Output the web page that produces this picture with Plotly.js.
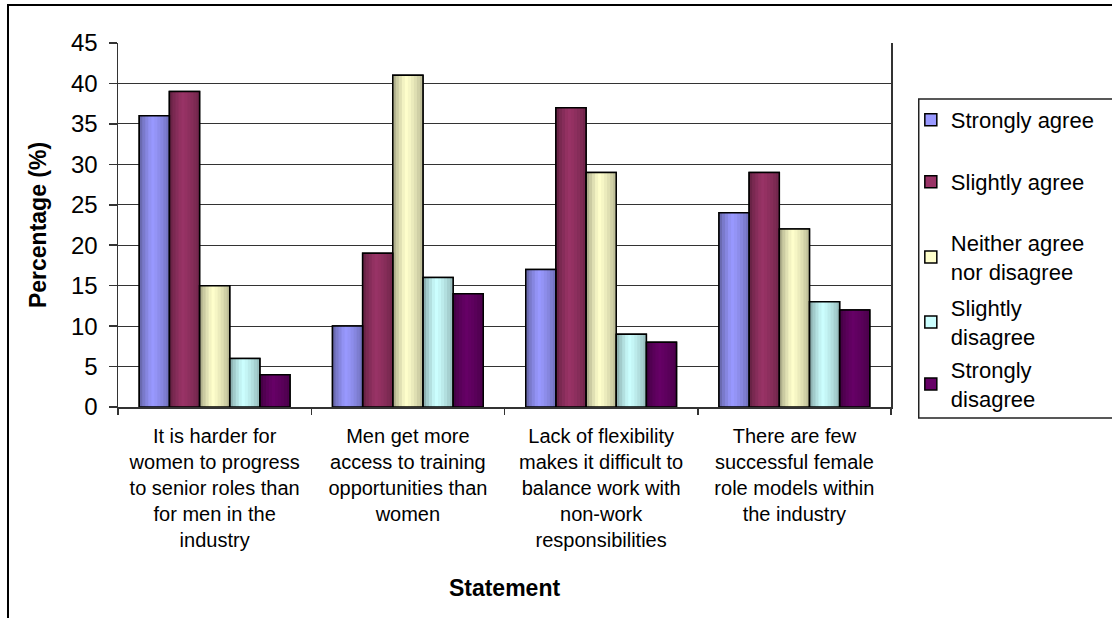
<!DOCTYPE html>
<html>
<head>
<meta charset="utf-8">
<script src="https://cdn.plot.ly/plotly-3.0.1.min.js"></script>
<style>
  html, body { margin: 0; padding: 0; background: #fff; }
  #chart { width: 1112px; height: 618px; }
</style>
</head>
<body>
<div id="chart"></div>
<script>
// Survey statements (x categories)
const statements = [
  'It is harder for<br>women to progress<br>to senior roles than<br>for men in the<br>industry',
  'Men get more<br>access to training<br>opportunities than<br>women',
  'Lack of flexibility<br>makes it difficult to<br>balance work with<br>non-work<br>responsibilities',
  'There are few<br>successful female<br>role models within<br>the industry'
];

// Response options (legend labels)
const responses = [
  'Strongly agree',
  'Slightly agree',
  'Neither agree<br>nor disagree',
  'Slightly<br>disagree',
  'Strongly<br>disagree'
];

// Percentage of respondents per statement
const stronglyAgree    = [36, 10, 17, 24];
const slightlyAgree    = [39, 19, 37, 29];
const neitherAgree     = [15, 41, 29, 22];
const slightlyDisagree = [6, 16, 9, 13];
const stronglyDisagree = [4, 14, 8, 12];

// Y axis ticks
const yTicks = [0, 5, 10, 15, 20, 25, 30, 35, 40, 45];

const seriesValues = [stronglyAgree, slightlyAgree, neitherAgree, slightlyDisagree, stronglyDisagree];
const seriesColors = ['#9999FF', '#993366', '#FFFFCC', '#CCFFFF', '#660066'];

const FONT = 'Liberation Sans, Arial, sans-serif';

// Horizontal shading across each bar: darker edges, bright band left of centre
function shadeFactor(t) {
  if (t < 0.42) return 0.6 + 0.4 * Math.pow(t / 0.42, 0.7);
  return 1 - 0.28 * Math.pow((t - 0.42) / 0.58, 1.4);
}
function shade(hex, f) {
  const n = parseInt(hex.slice(1), 16);
  const r = Math.round(((n >> 16) & 255) * f);
  const g = Math.round(((n >> 8) & 255) * f);
  const b = Math.round((n & 255) * f);
  return 'rgb(' + r + ',' + g + ',' + b + ')';
}

const barW = 0.156;
const groupW = barW * seriesValues.length;
const STRIPES = 10;

const baseTraces = [], stripeTraces = [], outlineTraces = [];
seriesValues.forEach((vals, i) => {
  const off0 = -groupW / 2 + i * barW;
  baseTraces.push({
    type: 'bar', x: statements, y: vals, name: responses[i],
    width: barW, offset: off0,
    marker: { color: seriesColors[i], line: { color: '#000', width: 1.5 } },
    legend: i === 0 ? 'legend' : 'legend' + (i + 1),
    hoverinfo: 'skip'
  });
  const sw = barW / STRIPES;
  for (let k = 0; k < STRIPES; k++) {
    const t = (k + 0.5) / STRIPES;
    stripeTraces.push({
      type: 'bar', x: statements, y: vals,
      width: Math.min(sw * 1.6, barW - k * sw), offset: off0 + k * sw,
      marker: { color: shade(seriesColors[i], shadeFactor(t)), line: { width: 0 } },
      showlegend: false, hoverinfo: 'skip'
    });
  }
  outlineTraces.push({
    type: 'bar', x: statements, y: vals, name: responses[i],
    width: barW, offset: off0,
    marker: { color: 'rgba(0,0,0,0)', line: { color: '#000', width: 1.5 } },
    showlegend: false
  });
});

// Pixel geometry of the plot area
const M = { l: 118, r: 214, t: 43, b: 211 };
const plotW = 1112 - M.l - M.r;
const plotH = 618 - M.t - M.b;
const px = p => (p - M.l) / plotW;
const py = q => (618 - M.b - q) / plotH;

const legendCentres = [120, 182, 257.5, 322.5, 384.5];
const legendBase = {
  x: px(918), xanchor: 'left', yanchor: 'middle',
  bgcolor: 'rgba(0,0,0,0)', borderwidth: 0,
  font: { family: FONT, size: 22, color: '#000' }
};

const layout = {
  width: 1112, height: 618,
  margin: M,
  paper_bgcolor: '#fff', plot_bgcolor: '#fff',
  barmode: 'overlay',
  font: { family: FONT, color: '#000' },
  xaxis: {
    type: 'category', range: [-0.5, 3.5],
    tickson: 'boundaries', ticks: 'outside', ticklen: 6, tickcolor: '#333', tickwidth: 1.5,
    showline: true, linecolor: '#333', linewidth: 1.5,
    showgrid: false, zeroline: false,
    tickfont: { family: FONT, size: 20, color: '#000' },
    ticklabelstandoff: 10,
    title: { text: 'Statement', font: { family: FONT, size: 23, weight: 'bold', color: '#000' }, standoff: 30 }
  },
  yaxis: {
    range: [0, 45], tickvals: yTicks, ticktext: yTicks.map(String),
    ticks: 'outside', ticklen: 8, tickcolor: '#333', tickwidth: 1.5,
    showline: true, linecolor: '#333', linewidth: 1.5, mirror: true,
    showgrid: true, gridcolor: '#333', gridwidth: 1, zeroline: false,
    tickfont: { family: FONT, size: 24, color: '#000' },
    ticklabelstandoff: 6,
    title: { text: 'Percentage (%)', font: { family: FONT, size: 23, weight: 'bold', color: '#000' }, standoff: 18 }
  },
  shapes: [
    { type: 'rect', xref: 'paper', yref: 'paper', layer: 'below',
      x0: px(7), x1: px(1300), y0: py(800), y1: py(5),
      line: { color: '#000', width: 2 }, fillcolor: 'rgba(0,0,0,0)' },
    { type: 'rect', xref: 'paper', yref: 'paper', layer: 'below',
      x0: px(926), x1: px(1300), y0: py(418), y1: py(99),
      line: { color: '#222', width: 1.5 }, fillcolor: 'rgba(0,0,0,0)' }
  ],
  showlegend: true
};
legendCentres.forEach((c, i) => {
  layout[i === 0 ? 'legend' : 'legend' + (i + 1)] = Object.assign({}, legendBase, { y: py(c) });
});

Plotly.newPlot('chart', baseTraces.concat(stripeTraces, outlineTraces), layout, { displayModeBar: false, staticPlot: true });
</script>
</body>
</html>
